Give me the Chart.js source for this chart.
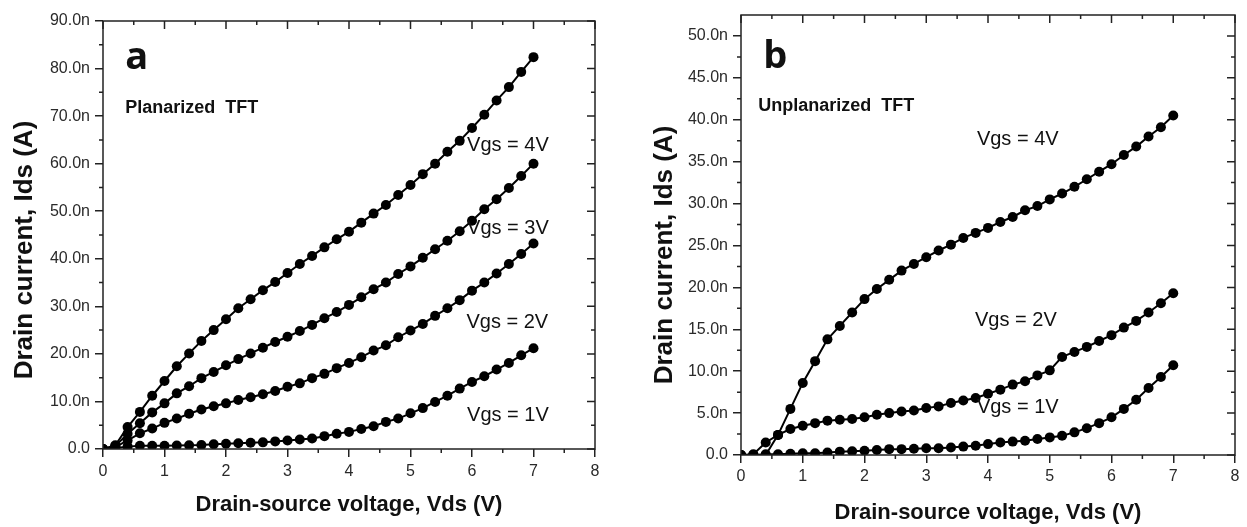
<!DOCTYPE html>
<html>
<head>
<meta charset="utf-8">
<script src="https://cdn.jsdelivr.net/npm/chart.js@4.4.1/dist/chart.umd.min.js"></script>
<style>
  body { margin: 0; background: #fff; }
  .panel { position: absolute; top: 0; height: 527px; }
  #wrapA { left: 0; width: 630px; }
  #wrapB { left: 630px; width: 617px; }
</style>
</head>
<body>
<div class="panel" id="wrapA"><canvas id="chartA"></canvas></div>
<div class="panel" id="wrapB"><canvas id="chartB"></canvas></div>
<script>
// drain-source voltage sweep (V), shared by every curve
const vds = [0, 0.2, 0.4, 0.6, 0.8, 1, 1.2, 1.4, 1.6, 1.8, 2, 2.2, 2.4, 2.6, 2.8, 3, 3.2, 3.4,
             3.6, 3.8, 4, 4.2, 4.4, 4.6, 4.8, 5, 5.2, 5.4, 5.6, 5.8, 6, 6.2, 6.4, 6.6, 6.8, 7];

// (a) planarized TFT, drain current in nA
const planVgs4 = [0, 0.8, 4.6, 7.8, 11.2, 14.3, 17.4, 20.1, 22.7, 25.0, 27.3, 29.6, 31.5, 33.4, 35.1, 37.0, 38.9, 40.6,
                  42.4, 44.1, 45.7, 47.6, 49.5, 51.3, 53.4, 55.5, 57.8, 60.0, 62.5, 64.8, 67.5, 70.3, 73.3, 76.1, 79.3, 82.4];
const planVgs3 = [0, 0.6, 3.2, 5.4, 7.7, 9.6, 11.7, 13.2, 14.9, 16.2, 17.6, 18.9, 20.1, 21.3, 22.5, 23.6, 24.8, 26.1,
                  27.5, 28.8, 30.3, 31.9, 33.6, 35.0, 36.8, 38.4, 40.2, 42.0, 43.8, 45.8, 48.0, 50.4, 52.5, 54.9, 57.4, 60.0];
const planVgs2 = [0, 0.4, 1.8, 3.3, 4.3, 5.5, 6.4, 7.4, 8.3, 9.0, 9.6, 10.3, 10.9, 11.5, 12.2, 13.1, 13.8, 14.9,
                  15.8, 17.0, 18.1, 19.3, 20.7, 21.8, 23.5, 24.9, 26.3, 28.0, 29.6, 31.3, 33.3, 35.0, 36.9, 38.9, 41.0, 43.2];
const planVgs1 = [0, 0.2, 0.5, 0.7, 0.7, 0.7, 0.75, 0.8, 0.85, 1.0, 1.1, 1.2, 1.3, 1.4, 1.6, 1.8, 2.0, 2.2,
                  2.7, 3.2, 3.6, 4.2, 4.8, 5.7, 6.4, 7.5, 8.6, 9.9, 11.2, 12.7, 14.1, 15.3, 16.7, 18.1, 19.7, 21.2];

// (b) unplanarized TFT, drain current in nA
const unplVgs4 = [0, 0, 0, 2.4, 5.5, 8.6, 11.2, 13.8, 15.4, 17.0, 18.6, 19.8, 20.9, 22.0, 22.8, 23.6, 24.4, 25.1,
                  25.9, 26.5, 27.1, 27.8, 28.4, 29.2, 29.7, 30.5, 31.2, 32.0, 32.9, 33.8, 34.7, 35.8, 36.8, 38.0, 39.1, 40.5];
const unplVgs2 = [0, 0.1, 1.5, 2.4, 3.1, 3.5, 3.8, 4.1, 4.2, 4.3, 4.5, 4.8, 5.0, 5.2, 5.3, 5.6, 5.8, 6.2,
                  6.5, 6.8, 7.3, 7.8, 8.4, 8.8, 9.5, 10.1, 11.7, 12.3, 12.9, 13.6, 14.3, 15.2, 16.0, 17.0, 18.1, 19.3];
const unplVgs1 = [0, 0, 0.1, 0.1, 0.15, 0.2, 0.2, 0.3, 0.4, 0.45, 0.5, 0.6, 0.7, 0.7, 0.75, 0.8, 0.8, 0.9,
                  1.0, 1.1, 1.3, 1.5, 1.6, 1.7, 1.9, 2.1, 2.3, 2.7, 3.2, 3.8, 4.5, 5.5, 6.6, 8.0, 9.3, 10.7];

// curve labels, placed in data units (V, nA)
const planNotes  = ['Vgs = 4V', 'Vgs = 3V', 'Vgs = 2V', 'Vgs = 1V'];
const planNoteX  = [5.92, 5.92, 5.91, 5.92];
const planNoteY  = [63.9, 46.4, 26.7, 7.1];
const unplNotes  = ['Vgs = 4V', 'Vgs = 2V', 'Vgs = 1V'];
const unplNoteX  = [3.82, 3.79, 3.82];
const unplNoteY  = [37.6, 16.1, 5.7];

const xTitle = 'Drain-source voltage, Vds (V)';
const yTitle = 'Drain current, Ids (A)';

const INK = '#111';
const TICK_INK = '#2a2a2a';

// box frame + minor ticks + mirrored inward ticks on top/right
const frame = {
  id: 'frame',
  afterDraw(chart) {
    const { ctx, chartArea: a, scales: { x, y } } = chart;
    const mid = arr => arr.slice(1).map((v, i) => (v + arr[i]) / 2);
    const xt = x.ticks.map(t => t.value);
    const yt = y.ticks.map(t => t.value);
    ctx.save();
    ctx.strokeStyle = '#222';
    ctx.lineWidth = 1.5;
    ctx.strokeRect(a.left, a.top, a.right - a.left, a.bottom - a.top);
    ctx.beginPath();
    xt.forEach(v => {
      const p = x.getPixelForValue(v);
      ctx.moveTo(p, a.top); ctx.lineTo(p, a.top + 8);
    });
    mid(xt).forEach(v => {
      const p = x.getPixelForValue(v);
      ctx.moveTo(p, a.bottom); ctx.lineTo(p, a.bottom + 4);
      ctx.moveTo(p, a.top); ctx.lineTo(p, a.top + 4);
    });
    yt.forEach(v => {
      const p = y.getPixelForValue(v);
      ctx.moveTo(a.right, p); ctx.lineTo(a.right - 8, p);
    });
    mid(yt).forEach(v => {
      const p = y.getPixelForValue(v);
      ctx.moveTo(a.left, p); ctx.lineTo(a.left - 4, p);
      ctx.moveTo(a.right, p); ctx.lineTo(a.right - 4, p);
    });
    ctx.stroke();
    ctx.restore();
  }
};

// free text: panel letter, sample name, curve labels, rotated y title
const notes = {
  id: 'notes',
  afterDraw(chart, args, o) {
    const { ctx, chartArea: a, scales: { x, y } } = chart;
    ctx.save();
    ctx.fillStyle = INK;
    ctx.textAlign = 'left';
    ctx.textBaseline = 'alphabetic';
    ctx.font = 'bold 38px "Open Sans", "Liberation Sans", sans-serif';
    ctx.fillText(o.letter, x.getPixelForValue(o.letterAt[0]), y.getPixelForValue(o.letterAt[1]));
    ctx.font = 'bold 18px "Liberation Sans", Arial, sans-serif';
    ctx.fillText(o.sample, x.getPixelForValue(o.sampleAt[0]), y.getPixelForValue(o.sampleAt[1]));
    ctx.font = '20px "Liberation Sans", Arial, sans-serif';
    ctx.textBaseline = 'middle';
    o.text.forEach((t, i) => ctx.fillText(t, x.getPixelForValue(o.tx[i]), y.getPixelForValue(o.ty[i])));
    // y title
    ctx.translate(o.yTitleX, (a.top + a.bottom) / 2 + o.yTitleShift);
    ctx.rotate(-Math.PI / 2);
    ctx.textAlign = 'center';
    ctx.font = 'bold 26px "Liberation Sans", Arial, sans-serif';
    ctx.fillText(yTitle, 0, 0);
    ctx.restore();
  }
};

function series(values) {
  return {
    data: vds.map((v, i) => ({ x: v, y: values[i] })),
    borderColor: '#000',
    borderWidth: 2,
    pointRadius: 5,
    pointBackgroundColor: '#000',
    pointBorderWidth: 0,
    tension: 0
  };
}

const nLabel = v => (v === 0 ? '0.0' : v.toFixed(1) + 'n');

function makeChart(id, p) {
  return new Chart(document.getElementById(id), {
    type: 'line',
    data: { datasets: p.curves.map(series) },
    options: {
      responsive: true,
      maintainAspectRatio: false,
      animation: false,
      layout: { padding: { top: p.top, right: p.right, left: 0, bottom: 0 } },
      plugins: {
        legend: { display: false },
        tooltip: { enabled: false },
        notes: p.notes
      },
      scales: {
        x: {
          type: 'linear', min: 0, max: 8,
          afterFit: s => { s.height = p.xHeight; },
          ticks: { stepSize: 1, color: TICK_INK, padding: p.xPad,
                   font: { family: '"Liberation Sans", Arial, sans-serif', size: 16 } },
          grid: { drawOnChartArea: false, tickLength: 8, color: '#222', lineWidth: 1.5 },
          border: { display: false },
          title: { display: true, text: xTitle, color: INK, padding: { top: 0, bottom: p.xTitlePad },
                   font: { family: '"Liberation Sans", Arial, sans-serif', size: 22, weight: 'bold' } }
        },
        y: {
          min: 0, max: p.yMax,
          afterFit: s => { s.width = p.yWidth; },
          ticks: { stepSize: p.yStep, includeBounds: false, color: TICK_INK, padding: 5,
                   callback: nLabel,
                   font: { family: '"Liberation Sans", Arial, sans-serif', size: 16 } },
          grid: { drawOnChartArea: false, tickLength: 8, color: '#222', lineWidth: 1.5 },
          border: { display: false }
        }
      }
    },
    plugins: [frame, notes]
  });
}

makeChart('chartA', {
  curves: [planVgs4, planVgs3, planVgs2, planVgs1],
  yMax: 90, yStep: 10,
  top: 21, right: 35, yWidth: 103, xHeight: 78, xPad: 5, xTitlePad: 9,
  notes: {
    letter: 'a', letterAt: [0.36, 80.0],
    sample: 'Planarized  TFT', sampleAt: [0.36, 70.6],
    text: planNotes, tx: planNoteX, ty: planNoteY,
    yTitleX: 25, yTitleShift: 15
  }
});

makeChart('chartB', {
  curves: [unplVgs4, unplVgs2, unplVgs1],
  yMax: 52.5, yStep: 5,
  top: 15, right: 12, yWidth: 111, xHeight: 72, xPad: 4, xTitlePad: 1,
  notes: {
    letter: 'b', letterAt: [0.36, 46.2],
    sample: 'Unplanarized  TFT', sampleAt: [0.28, 41.1],
    text: unplNotes, tx: unplNoteX, ty: unplNoteY,
    yTitleX: 35, yTitleShift: 20
  }
});
</script>
</body>
</html>
